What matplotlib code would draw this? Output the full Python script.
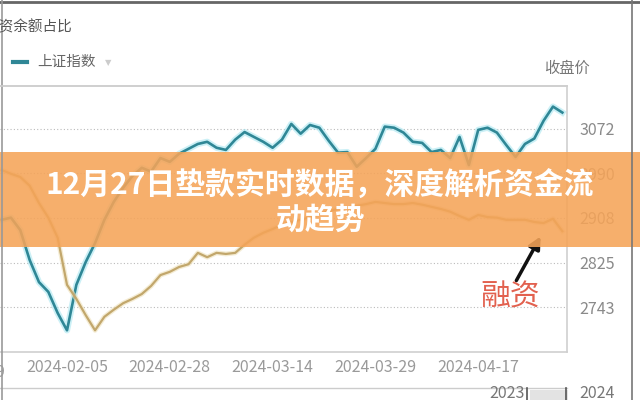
import matplotlib
matplotlib.use('Agg')
import matplotlib.pyplot as plt
from matplotlib.lines import Line2D
from matplotlib.patches import Rectangle, FancyArrowPatch

plt.rcParams['font.family'] = ['Noto Sans CJK SC', 'DejaVu Sans']

# trading-day index -> values
index_close = [2904, 2908, 2885, 2830, 2789, 2771, 2732, 2700, 2784, 2826,
               2861, 2904, 2937, 2963, 2985, 3000, 2993, 3018, 3011, 3026,
               3035, 3044, 3048, 3037, 3033, 3052, 3066, 3057, 3048, 3037,
               3052, 3081, 3063, 3079, 3074, 3050, 3028, 3029, 3002, 3018,
               3035, 3076, 3074, 3065, 3048, 3046, 3029, 3033, 3018, 3057,
               3005, 3070, 3074, 3065, 3042, 3020, 3044, 3054, 3087, 3113, 3102]
margin_ratio = [2996, 2989, 2983, 2967, 2935, 2908, 2871, 2784, 2758, 2728,
                2700, 2725, 2738, 2750, 2758, 2767, 2782, 2802, 2808, 2817,
                2822, 2843, 2835, 2843, 2841, 2843, 2858, 2871, 2880, 2887,
                2895, 2900, 2904, 2909, 2915, 2920, 2924, 2926, 2930, 2933,
                2937, 2935, 2933, 2933, 2935, 2932, 2928, 2924, 2919, 2911,
                2904, 2913, 2909, 2908, 2904, 2904, 2904, 2900, 2898, 2906, 2883]
y_ticks = [2743, 2825, 2908, 2990, 3072]
x_tick_pos = [7, 18, 29, 40, 51]
x_tick_labels = ['2024-02-05', '2024-02-28', '2024-03-14', '2024-03-29', '2024-04-17']

W, H = 640, 400
fig = plt.figure(figsize=(6.4, 4), dpi=100)
fig.patch.set_facecolor('white')

def fx(px):
    return px / W

def fy(py):
    return 1 - py / H

ax = fig.add_axes([0, fy(352), fx(567), fy(86) - fy(352)])
x = list(range(len(index_close)))

ax.plot(x, index_close, color='#a9e6f0', lw=4.5, alpha=0.6, solid_joinstyle='round')
ax.plot(x, index_close, color='#2f8796', lw=1.9, solid_joinstyle='round')
ax.plot(x, margin_ratio, color='#eee0b8', lw=3.5, alpha=0.6)
ax.plot(x, margin_ratio, color='#c2a76c', lw=1.6)

ax.set_xlim(-0.17, 60.5)
ax.set_ylim(2660, 3151)
ax.set_yticks(y_ticks)
ax.yaxis.tick_right()
ax.tick_params(axis='y', length=0, pad=9, labelsize=11.5, labelcolor='#8a8a8a')
ax.set_xticks(x_tick_pos)
ax.set_xticklabels(x_tick_labels)
ax.tick_params(axis='x', length=0, pad=5, labelsize=11.5, labelcolor='#9a9a9a')
ax.text(-4, -0.045, '2024-01-19', transform=ax.get_xaxis_transform(),
        ha='center', va='top', fontsize=11.5, color='#9a9a9a', clip_on=False)
ax.grid(axis='y', linestyle=(0, (1, 2)), color='#bbbbbb', lw=0.8)
ax.spines['left'].set_visible(False)
for s in ['top', 'right', 'bottom']:
    ax.spines[s].set_color('#cfcfcf')
    ax.spines[s].set_linewidth(1.2)

# header texts
fig.text(fx(72), fy(27), '融资余额占比', ha='right', va='center', fontsize=10.5, color='#555555')
fig.add_artist(Line2D([fx(13), fx(27)], [fy(62), fy(62)], color='#2f8796', lw=3))
fig.text(fx(37), fy(62), '上证指数', ha='left', va='center', fontsize=10.5, color='#666666')
fig.text(fx(108), fy(63), '▼', ha='center', va='center', fontsize=6, color='#cccccc',
         family=['DejaVu Sans'])
fig.text(fx(567), fy(68), '收盘价', ha='center', va='center', fontsize=11, color='#777777')

# frame lines of the screenshot
fig.add_artist(Line2D([0, 1], [fy(1.5), fy(1.5)], color='#666666', lw=2))
fig.add_artist(Line2D([0, fx(567)], [fy(388), fy(388)], color='#cccccc', lw=1))
fig.add_artist(Line2D([fx(1.5), fx(1.5)], [0, 1], color='#999999', lw=1.2))
fig.add_artist(Line2D([fx(632), fx(632)], [0, 1], color='#777777', lw=1.2))
fig.add_artist(Line2D([fx(0), fx(567)], [fy(86), fy(86)], color='#cfcfcf', lw=1.2))

# navigator strip
fig.add_artist(Rectangle((fx(530), 0), fx(38), fy(390), color='#e3e3e3', lw=0))
fig.text(fx(507), fy(394), '2023', ha='center', va='center', fontsize=11.5, color='#777777')
fig.text(fx(597), fy(394), '2024', ha='center', va='center', fontsize=11.5, color='#777777')
fig.add_artist(Line2D([fx(527), fx(527)], [0, fy(388)], color='#555555', lw=1.2))
fig.add_artist(Line2D([fx(566), fx(566)], [0, fy(388)], color='#555555', lw=1.2))

# annotation
fig.add_artist(FancyArrowPatch((fx(515), fy(283)), (fx(542), fy(234)),
                               transform=fig.transFigure, arrowstyle='-|>',
                               mutation_scale=18, color='#111111', lw=2.5))
fig.text(fx(510), fy(297), '融资', ha='center', va='center', fontsize=21.5, color='#e2614f')

# title banner
fig.add_artist(Rectangle((0, fy(247)), 1, fy(152) - fy(247), color='#f5a458',
                         alpha=0.88, lw=0))
fig.text(0.5, fy(186), '12月27日垫款实时数据，深度解析资金流', ha='center', va='center',
         fontsize=21.5, fontweight='bold', color='white')
fig.text(0.5, fy(220), '动趋势', ha='center', va='center',
         fontsize=21.5, fontweight='bold', color='white')

fig.savefig('out.png', dpi=100)
